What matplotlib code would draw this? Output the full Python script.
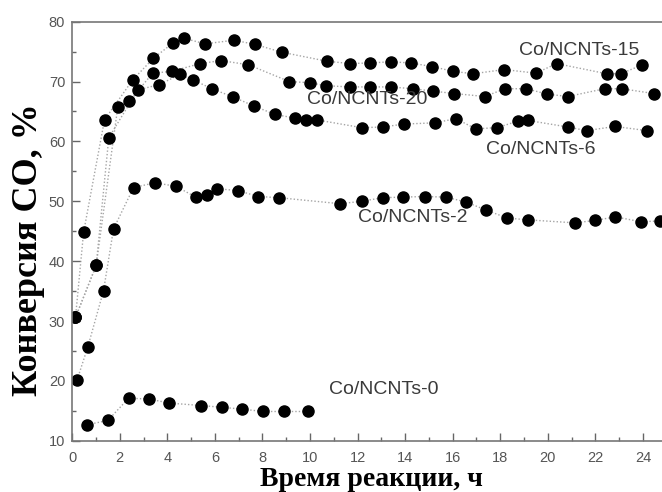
import matplotlib.pyplot as plt
from matplotlib.ticker import MultipleLocator

# Конверсия CO во времени для разных образцов
t_15 = [0.14, 0.48, 1.36, 2.55, 3.42, 4.26, 4.72, 5.59, 6.81, 7.69, 8.81, 10.7, 11.68,
        12.52, 13.39, 14.23, 15.14, 16.02, 16.86, 18.16, 19.5, 20.37, 22.47, 23.07, 23.98]
co_15 = [30.6, 44.8, 63.6, 70.3, 73.9, 76.5, 77.2, 76.3, 76.9, 76.2, 74.9, 73.4, 73.0,
         73.1, 73.3, 73.1, 72.5, 71.7, 71.3, 72.0, 71.4, 73.0, 71.3, 71.3, 72.8]

t_20 = [0.14, 1.01, 1.92, 2.41, 3.39, 4.19, 5.38, 6.26, 7.41, 9.13, 10.0, 10.67, 11.68,
        12.52, 13.39, 14.31, 15.18, 16.05, 17.35, 18.2, 19.1, 19.97, 20.84, 22.39, 23.1, 24.45]
co_20 = [30.6, 39.3, 65.8, 66.8, 71.4, 71.7, 73.0, 73.5, 72.8, 70.0, 69.8, 69.3, 69.1,
         69.1, 69.1, 68.8, 68.4, 68.0, 67.5, 68.8, 68.8, 67.9, 67.5, 68.8, 68.8, 68.0]

t_6 = [0.14, 1.01, 1.54, 2.76, 3.67, 4.54, 5.07, 5.87, 6.78, 7.65, 8.53, 9.37, 9.83, 10.28,
       12.17, 13.05, 13.95, 15.25, 16.13, 16.97, 17.87, 18.75, 19.17, 20.85, 21.63, 22.82, 24.17]
co_6 = [30.6, 39.3, 60.6, 68.6, 69.5, 71.2, 70.3, 68.8, 67.4, 65.9, 64.5, 63.9, 63.6, 63.6,
        62.3, 62.4, 62.9, 63.1, 63.8, 62.1, 62.3, 63.4, 63.5, 62.4, 61.8, 62.5, 61.8]

t_2 = [0.21, 0.66, 1.32, 1.74, 2.58, 3.49, 4.36, 5.2, 5.66, 6.08, 6.96, 7.83, 8.7, 11.26,
       12.17, 13.05, 13.92, 14.83, 15.7, 16.55, 17.42, 18.3, 19.17, 21.13, 21.97, 22.84, 23.9, 24.7]
co_2 = [20.2, 25.7, 35.1, 45.4, 52.3, 53.1, 52.5, 50.7, 51.1, 52.1, 51.8, 50.8, 50.6, 49.6,
        50.0, 50.6, 50.7, 50.8, 50.7, 49.9, 48.5, 47.2, 46.9, 46.4, 46.8, 47.4, 46.6, 46.7]

t_0 = [0.64, 1.5, 2.37, 3.21, 4.09, 5.42, 6.29, 7.13, 8.03, 8.91, 9.93]
co_0 = [12.7, 13.4, 17.1, 17.0, 16.3, 15.9, 15.6, 15.3, 14.9, 14.9, 14.9]

series = [(t_15, co_15), (t_20, co_20), (t_6, co_6), (t_2, co_2), (t_0, co_0)]

# подписи образцов
names = ["Co/NCNTs-15", "Co/NCNTs-20", "Co/NCNTs-6", "Co/NCNTs-2", "Co/NCNTs-0"]
name_x = [21.3, 12.4, 19.7, 14.3, 13.1]
name_y = [75.2, 67.0, 58.6, 47.3, 18.6]

fig = plt.figure(figsize=(6.62, 4.92), dpi=100)
ax = fig.add_axes([0.109, 0.104, 0.891, 0.852])

for t, co in series:
    ax.plot(t, co, color="#a5a5a5", lw=1.0, ls=(0, (1, 1.5)), zorder=1)
    ax.plot(t, co, "o", color="black", ms=8, zorder=2)

for name, x, y in zip(names, name_x, name_y):
    ax.text(x, y, name, ha="center", va="center", fontsize=14,
            family="Liberation Sans", color="#3a3a3a")

ax.set_xlim(0, 24.8)
ax.set_ylim(10, 80)
ax.xaxis.set_major_locator(MultipleLocator(2))
ax.xaxis.set_minor_locator(MultipleLocator(1))
ax.yaxis.set_major_locator(MultipleLocator(10))
ax.yaxis.set_minor_locator(MultipleLocator(5))

ax.tick_params(which="both", direction="in", colors="#666666", labelcolor="#555555",
               labelsize=10.5, width=1)
ax.tick_params(which="major", length=6)
ax.tick_params(which="minor", length=3)
ax.tick_params(axis="y", pad=5)
ax.tick_params(axis="x", pad=7)
for lab in ax.get_xticklabels() + ax.get_yticklabels():
    lab.set_family("Liberation Sans")

for side in ["left", "bottom", "top"]:
    ax.spines[side].set_color("#777777")
    ax.spines[side].set_linewidth(1.2)
ax.spines["right"].set_visible(False)

ax.set_xlabel("Время реакции, ч", family="Liberation Serif", fontweight="bold",
              fontsize=20)
ax.set_ylabel("Конверсия CO, %", family="Liberation Serif", fontweight="bold",
              fontsize=26)
ax.xaxis.set_label_coords(0.507, -0.063)
ax.yaxis.set_label_coords(-0.046, 0.455)

fig.savefig("out.png", dpi=100)
